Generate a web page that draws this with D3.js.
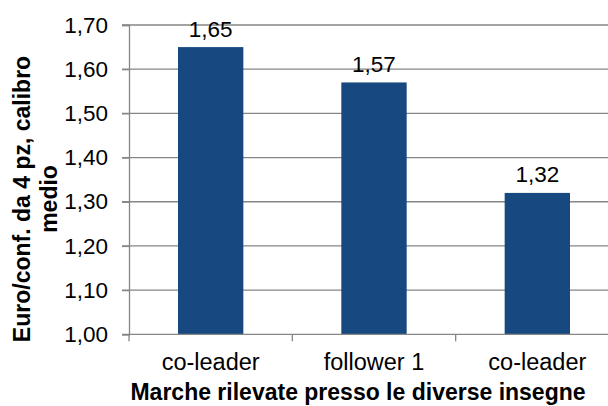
<!DOCTYPE html>
<html>
<head>
<meta charset="utf-8">
<script src="https://cdn.jsdelivr.net/npm/d3@7"></script>
<style>
  body { margin: 0; background: #fff; }
  svg { display: block; font-family: "Liberation Sans", Arial, sans-serif; }
</style>
</head>
<body>
<div id="chart"></div>
<script>
// dati del grafico
const categories = ["co-leader", "follower 1", "co-leader "];
const values = [1.65, 1.57, 1.32];
const yTicks = [1.0, 1.1, 1.2, 1.3, 1.4, 1.5, 1.6, 1.7];
const yTitle = ["Euro/conf. da 4 pz, calibro", "medio"];
const xTitle = "Marche rilevate presso le diverse insegne";

const width = 608, height = 406;
const plotLeft = 129, plotRight = 619, plotTop = 25, plotBottom = 334.3;

const svg = d3.select("#chart").append("svg")
    .attr("width", width)
    .attr("height", height);

const x = d3.scaleBand()
    .domain(categories)
    .range([plotLeft, plotRight])
    .paddingInner(0.6)
    .paddingOuter(0.3);

const y = d3.scaleLinear()
    .domain([1.0, 1.7])
    .range([plotBottom, plotTop]);

const fmt = (d) => d3.format(".2f")(d).replace(".", ",");

// griglia orizzontale
svg.append("g")
    .selectAll("line")
    .data(yTicks.slice(1))
    .enter()
    .append("line")
    .attr("x1", plotLeft - 7)
    .attr("x2", width)
    .attr("y1", (d) => y(d))
    .attr("y2", (d) => y(d))
    .attr("stroke", "#868686")
    .attr("stroke-width", 1.3);

// barre
svg.append("g")
    .selectAll("rect")
    .data(values)
    .enter()
    .append("rect")
    .attr("x", (d, i) => x(categories[i]))
    .attr("y", (d) => y(d))
    .attr("width", x.bandwidth())
    .attr("height", (d) => y(1.0) - y(d))
    .attr("fill", "#17487f");

// asse y
const axisY = svg.append("g")
    .attr("transform", "translate(" + plotLeft + ",0)")
    .call(d3.axisLeft(y).tickValues(yTicks).tickSize(7).tickPadding(14).tickFormat(fmt));
axisY.select(".domain").attr("stroke", "#868686").attr("stroke-width", 1.3);
axisY.selectAll(".tick line").attr("stroke", "#868686").attr("stroke-width", 1.3);
axisY.selectAll(".tick text")
    .attr("font-size", "22.5px")
    .attr("font-family", "Liberation Sans, Arial, sans-serif")
    .attr("fill", "#000");

// asse x
const axisX = svg.append("g")
    .attr("transform", "translate(0," + plotBottom + ")")
    .call(d3.axisBottom(x).tickSize(0).tickPadding(0).tickFormat((d) => d.trim()));
axisX.select(".domain").remove();
axisX.selectAll(".tick text")
    .attr("y", 36)
    .attr("dy", null)
    .attr("font-size", "23.5px")
    .attr("font-family", "Liberation Sans, Arial, sans-serif")
    .attr("fill", "#000");

// linea di base e separatori
svg.append("line")
    .attr("x1", plotLeft - 7)
    .attr("x2", width)
    .attr("y1", plotBottom)
    .attr("y2", plotBottom)
    .attr("stroke", "#868686")
    .attr("stroke-width", 1.3);
svg.append("g")
    .selectAll("line")
    .data(categories)
    .enter()
    .append("line")
    .attr("x1", (d, i) => plotLeft + i * x.step())
    .attr("x2", (d, i) => plotLeft + i * x.step())
    .attr("y1", plotBottom)
    .attr("y2", plotBottom + 7)
    .attr("stroke", "#868686")
    .attr("stroke-width", 1.3);

// etichette valori
svg.append("g")
    .selectAll("text")
    .data(values)
    .enter()
    .append("text")
    .attr("x", (d, i) => x(categories[i]) + x.bandwidth() / 2)
    .attr("y", (d) => y(d) - 10.5)
    .attr("text-anchor", "middle")
    .attr("font-size", "22.5px")
    .attr("fill", "#000")
    .text(fmt);

// titolo asse y
yTitle.forEach((t, i) => {
    svg.append("text")
        .attr("transform", "translate(" + (30 + i * 27) + ",199) rotate(-90)")
        .attr("text-anchor", "middle")
        .attr("font-size", "23px")
        .attr("font-weight", "bold")
        .attr("fill", "#000")
        .text(t);
});

// titolo asse x
svg.append("text")
    .attr("x", 358)
    .attr("y", 400)
    .attr("text-anchor", "middle")
    .attr("font-size", "23px")
    .attr("font-weight", "bold")
    .attr("fill", "#000")
    .text(xTitle);
</script>
</body>
</html>
